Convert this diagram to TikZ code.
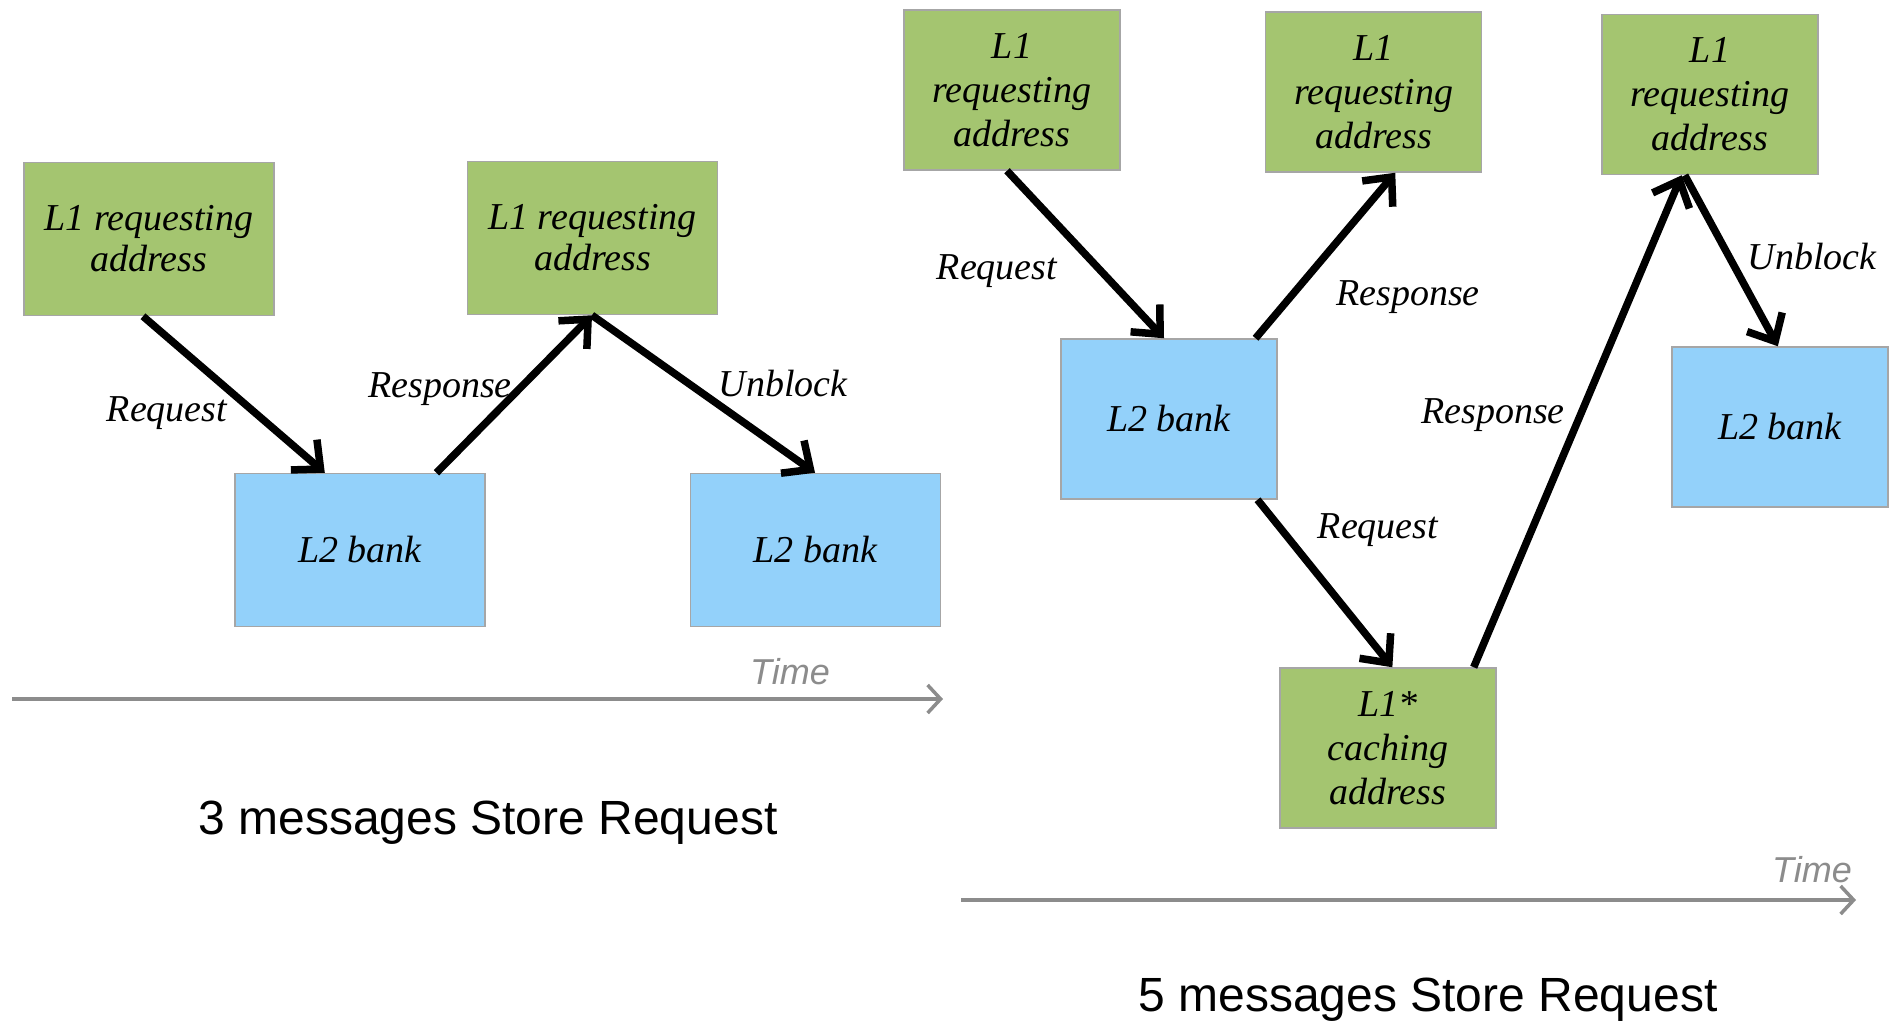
\documentclass[tikz,border=0pt]{standalone}
\usepackage{fontspec}
\setmainfont{Liberation Serif}
\newfontfamily\arialf{Liberation Sans}
\usetikzlibrary{arrows.meta,calc}
\definecolor{boxgreen}{HTML}{A4C570}
\definecolor{boxblue}{HTML}{93D1FA}
\definecolor{boxedge}{HTML}{A6A6A6}
\definecolor{timegray}{HTML}{8C8C8C}
\begin{document}
\begin{tikzpicture}[x=1pt,y=-1pt,
  box/.style={draw=boxedge, line width=1.5pt, inner sep=0pt, align=center,
    font=\fontsize{38}{41}\selectfont\itshape},
  gbox/.style={box, fill=boxgreen},
  bbox/.style={box, fill=boxblue},
  lsize/.style={minimum width=250pt, minimum height=153pt},
  rsize/.style={minimum width=216pt, minimum height=160pt, font=\fontsize{38}{44}\selectfont\itshape},
  msg/.style={line width=7.5pt, -{Straight Barb[length=22pt,width=40pt]}},
  lbl/.style={font=\fontsize{38}{41}\selectfont\itshape},
  timeax/.style={draw=timegray, line width=3.5pt, -{Straight Barb[length=13pt,width=28pt]}},
  timelbl/.style={font=\arialf\itshape\fontsize{36}{40}\selectfont, text=timegray},
  title/.style={font=\arialf\fontsize{48}{56}\selectfont}
]
\fill[white] (0,0) rectangle (1890,1021);
\useasboundingbox (0,0) rectangle (1890,1021);

% ---------- left diagram ----------
\node[gbox, lsize] (g1) at (149,239) {L1 requesting\\address};
\node[gbox, lsize] (g2) at (592.5,238) {L1 requesting\\address};
\node[bbox, lsize] (b1) at (360,550) {L2 bank};
\node[bbox, lsize] (b2) at (815.5,550) {L2 bank};

\draw[msg] ($(g1.south west)!0.476!(g1.south east)$) -- ($(b1.north west)!0.36!(b1.north east)$);
\draw[msg] ($(b1.north west)!0.804!(b1.north east)$) -- ($(g2.south west)!0.498!(g2.south east)$);
\draw[msg] ($(g2.south west)!0.498!(g2.south east)$) -- ($(b2.north west)!0.498!(b2.north east)$);

\node[lbl] (lreq1) at (167,413) {Request};
\node[lbl] (lresp1) at (440,389) {Response};
\node[lbl] (lunb1) at (783,383) {Unblock};

\coordinate (t1s) at (12,699);
\coordinate (t1e) at (943,699);
\draw[timeax] (t1s) -- (t1e);
\node[timelbl] (time1) at (790,672) {Time};
\node[title] (title1) at (488,823) {3 messages Store Request};

% ---------- right diagram ----------
\node[gbox, rsize] (gA) at (1012,90) {L1\\requesting\\address};
\node[gbox, rsize] (gB) at (1373.5,92) {L1\\requesting\\address};
\node[gbox, rsize] (gC) at (1710,94.5) {L1\\requesting\\address};
\node[bbox, rsize] (bD) at (1169,419) {L2 bank};
\node[bbox, rsize] (bE) at (1780,427) {L2 bank};
\node[gbox, rsize] (gF) at (1388,748) {L1*\\caching\\address};

\draw[msg] ($(gA.south west)!0.477!(gA.south east)$) -- ($(bD.north west)!0.477!(bD.north east)$);
\draw[msg] ($(bD.north west)!0.898!(bD.north east)$) -- ($(gB.south west)!0.6!(gB.south east)$);
\draw[msg] ($(bD.south west)!0.907!(bD.south east)$) -- ($(gF.north west)!0.52!(gF.north east)$);
\draw[msg] ($(gF.north west)!0.894!(gF.north east)$) -- ($(gC.south west)!0.37!(gC.south east)$);
\draw[msg] ($(gC.south west)!0.384!(gC.south east)$) -- ($(bE.north west)!0.49!(bE.north east)$);

\node[lbl] (lreqA) at (997,271) {Request};
\node[lbl] (lrespB) at (1408,297) {Response};
\node[lbl] (lrespC) at (1493,415) {Response};
\node[lbl] (lreqF) at (1378,530) {Request};
\node[lbl] (lunbE) at (1812,256) {Unblock};

\coordinate (t2s) at (961,900);
\coordinate (t2e) at (1856,900);
\draw[timeax] (t2s) -- (t2e);
\node[timelbl] (time2) at (1812,870) {Time};
\node[title] (title2) at (1428,1000) {5 messages Store Request};
\end{tikzpicture}
\end{document}
